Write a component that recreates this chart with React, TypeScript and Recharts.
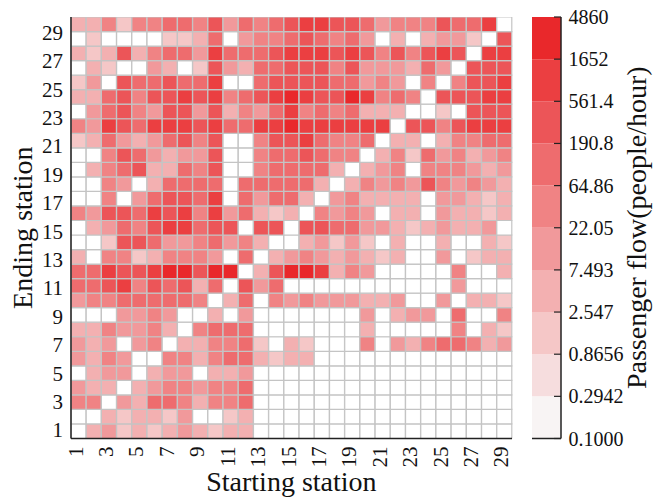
import { Bar, BarChart, Cell, XAxis, YAxis } from "recharts";

const stations = [
  1, 2, 3, 4, 5, 6, 7, 8, 9, 10, 11, 12, 13, 14, 15, 16, 17, 18, 19, 20, 21,
  22, 23, 24, 25, 26, 27, 28, 29,
];
const stationTicks = [1, 3, 5, 7, 9, 11, 13, 15, 17, 19, 21, 23, 25, 27, 29];

// OD passenger flow (people/hour). Rows: ending station 29 down to 1.
// Columns: starting station 1..29. 0 means no trips.
const flowRows: number[][] = [
  [4.5, 4.5, 38, 1.6, 38, 38, 110, 110, 38, 320, 13, 110, 38, 110, 320, 950, 950, 320, 320, 110, 13, 38, 38, 38, 320, 110, 110, 950, 0],
  [0, 1.6, 0, 0, 0, 0, 1.6, 1.6, 4.5, 110, 0, 13, 38, 38, 110, 320, 110, 38, 110, 13, 0, 4.5, 0, 4.5, 13, 13, 1.6, 0, 320],
  [4.5, 1.6, 4.5, 320, 4.5, 38, 110, 110, 13, 950, 110, 110, 110, 320, 950, 950, 950, 320, 950, 320, 38, 320, 38, 320, 950, 320, 0, 950, 950],
  [0, 4.5, 1.6, 0, 0, 13, 4.5, 0, 1.6, 320, 13, 4.5, 110, 110, 320, 320, 320, 38, 320, 13, 13, 13, 4.5, 110, 13, 0, 320, 320, 320],
  [1.6, 13, 0, 320, 110, 110, 320, 110, 110, 950, 0, 0, 110, 320, 320, 320, 320, 110, 110, 13, 38, 13, 0, 38, 0, 38, 320, 320, 950],
  [4.5, 4.5, 110, 320, 38, 320, 320, 950, 320, 950, 38, 110, 320, 950, 2800, 950, 320, 320, 2800, 950, 38, 110, 38, 0, 320, 320, 320, 950, 950],
  [0, 13, 110, 320, 38, 13, 320, 320, 13, 320, 4.5, 38, 13, 110, 950, 38, 110, 38, 110, 4.5, 4.5, 4.5, 0, 0, 1.6, 0, 320, 320, 320],
  [38, 13, 950, 320, 110, 950, 950, 950, 320, 950, 110, 110, 950, 950, 2800, 950, 950, 950, 950, 950, 950, 0, 320, 320, 38, 320, 950, 950, 950],
  [1.6, 4.5, 110, 13, 4.5, 13, 110, 320, 38, 320, 0, 0, 38, 320, 320, 950, 110, 38, 38, 110, 0, 4.5, 4.5, 0, 4.5, 38, 38, 110, 110],
  [0, 0, 38, 320, 110, 13, 4.5, 13, 13, 320, 0, 0, 38, 110, 110, 320, 110, 38, 38, 0, 4.5, 38, 1.6, 110, 13, 38, 4.5, 13, 38],
  [0, 4.5, 38, 110, 320, 4.5, 4.5, 110, 38, 320, 0, 0, 38, 110, 110, 110, 110, 4.5, 0, 4.5, 13, 38, 0, 38, 38, 38, 13, 4.5, 13],
  [0, 0, 38, 13, 0, 4.5, 110, 110, 110, 110, 0, 110, 110, 110, 110, 110, 4.5, 0, 4.5, 38, 13, 38, 13, 320, 38, 13, 38, 13, 4.5],
  [0, 0, 38, 0, 13, 110, 320, 320, 110, 950, 0, 110, 13, 110, 110, 4.5, 0, 13, 38, 4.5, 4.5, 4.5, 4.5, 0, 13, 13, 4.5, 1.6, 4.5],
  [38, 13, 320, 320, 110, 950, 320, 950, 38, 950, 13, 110, 4.5, 1.6, 4.5, 0, 38, 13, 38, 13, 0, 4.5, 4.5, 0, 13, 4.5, 4.5, 1.6, 4.5],
  [0, 4.5, 13, 110, 38, 320, 950, 950, 110, 320, 320, 0, 320, 320, 0, 320, 320, 110, 110, 13, 13, 4.5, 1.6, 4.5, 13, 4.5, 4.5, 13, 0],
  [0, 0, 1.6, 320, 320, 110, 13, 13, 38, 110, 13, 38, 4.5, 0, 0, 4.5, 13, 1.6, 13, 1.6, 0, 4.5, 0, 0, 4.5, 0, 0, 4.5, 1.6],
  [4.5, 0, 38, 38, 1.6, 4.5, 38, 38, 38, 13, 0, 110, 0, 4.5, 13, 38, 13, 4.5, 13, 4.5, 1.6, 4.5, 0, 0, 13, 0, 1.6, 4.5, 4.5],
  [110, 110, 950, 320, 320, 950, 2800, 2800, 320, 2800, 2800, 0, 4.5, 320, 2800, 2800, 950, 4.5, 38, 13, 0, 0, 0, 0, 0, 38, 0, 0, 4.5],
  [110, 110, 320, 950, 38, 320, 110, 320, 4.5, 110, 0, 320, 13, 110, 0, 0, 0, 0, 0, 0, 0, 0, 0, 0, 0, 13, 0, 0, 0],
  [13, 38, 38, 110, 110, 110, 110, 110, 38, 0, 4.5, 110, 0, 38, 13, 38, 13, 13, 13, 4.5, 4.5, 13, 0, 0, 13, 0, 4.5, 4.5, 1.6],
  [0, 0, 0, 13, 13, 38, 13, 0, 0, 4.5, 0, 13, 0, 0, 0, 0, 0, 0, 0, 13, 0, 4.5, 13, 13, 0, 110, 0, 0, 38],
  [4.5, 4.5, 38, 13, 13, 38, 4.5, 0, 38, 110, 110, 110, 0, 0, 0, 0, 0, 0, 0, 4.5, 0, 0, 0, 0, 0, 38, 0, 4.5, 1.6],
  [13, 4.5, 13, 0, 13, 38, 0, 4.5, 4.5, 38, 38, 110, 1.6, 0, 4.5, 1.6, 0, 0, 0, 38, 0, 13, 4.5, 38, 110, 110, 38, 4.5, 13],
  [13, 4.5, 38, 13, 0, 0, 38, 38, 4.5, 38, 110, 110, 4.5, 1.6, 4.5, 4.5, 0, 0, 0, 0, 0, 0, 0, 0, 0, 0, 0, 0, 0],
  [0, 4.5, 13, 13, 0, 4.5, 13, 13, 0, 4.5, 4.5, 13, 0, 0, 0, 0, 0, 0, 0, 0, 0, 0, 0, 0, 0, 0, 0, 0, 0],
  [13, 4.5, 4.5, 0, 4.5, 13, 38, 38, 13, 38, 38, 110, 0, 0, 0, 0, 0, 0, 0, 0, 0, 0, 0, 0, 0, 0, 0, 0, 0],
  [38, 38, 0, 13, 4.5, 110, 110, 38, 4.5, 38, 38, 110, 0, 0, 0, 0, 0, 0, 0, 0, 0, 0, 0, 0, 0, 0, 0, 0, 0],
  [0, 0, 4.5, 1.6, 4.5, 4.5, 1.6, 13, 0, 0, 1.6, 4.5, 0, 0, 0, 0, 0, 0, 0, 0, 0, 0, 0, 0, 0, 0, 0, 0, 0],
  [0, 4.5, 13, 1.6, 4.5, 1.6, 4.5, 13, 4.5, 1.6, 4.5, 4.5, 0, 0, 0, 0, 0, 0, 0, 0, 0, 0, 0, 0, 0, 0, 0, 0, 0],
];

// colour scale: log-spaced band edges, bottom to top
const scaleBounds = [0.1, 0.2942, 0.8656, 2.547, 7.493, 22.05, 64.86, 190.8, 561.4, 1652, 4860];
const scaleLabels = ["0.1000", "0.2942", "0.8656", "2.547", "7.493", "22.05", "64.86", "190.8", "561.4", "1652", "4860"];
const scaleTickIdx = [0, 1, 2, 3, 4, 5, 6, 7, 8, 9, 10];
const bandColors = [
  "#f8f4f4", "#f6ddde", "#f5c7c7", "#f3b0b1", "#f1999b",
  "#f08384", "#ee6c6e", "#ec5558", "#eb3f41", "#e9282b",
];

const FONT = '"Liberation Serif", "Times New Roman", serif';
const FRAME = "#222";
const GRID = "#c4c4c4";
const frameLine = { stroke: FRAME, strokeWidth: 1.5 };

const flowAt = (end: number, start: number) => flowRows[29 - end][start - 1];

function colorFor(v: number) {
  if (!(v > 0)) return "#ffffff";
  for (let i = bandColors.length - 1; i >= 0; i--) {
    if (v >= scaleBounds[i]) return bandColors[i];
  }
  return bandColors[0];
}

// one stacked column per starting station, one unit-high segment per ending station
const cellData = stations.map((s) => {
  const row: Record<string, number> = { start: s };
  stations.forEach((e) => {
    row[`e${e}`] = 1;
  });
  return row;
});

const scaleData = [
  bandColors.reduce<Record<string, number | string>>(
    (acc, _c, i) => ({ ...acc, [`b${i}`]: 1 }),
    { k: "scale" }
  ),
];

function StartTick({ x, y, payload }: any) {
  if (payload.value % 2 === 0) return <g />;
  const tx = x + 4;
  const ty = y + 8;
  return (
    <text
      x={tx}
      y={ty}
      transform={`rotate(-90 ${tx} ${ty})`}
      textAnchor="end"
      fontSize={21}
      fontFamily={FONT}
      fill="#111"
    >
      {payload.value}
    </text>
  );
}

function EndTick({ x, y, payload }: any) {
  return (
    <text x={x} y={y} dy="0.35em" textAnchor="end" fontSize={21} fontFamily={FONT} fill="#111">
      {payload.value}
    </text>
  );
}

function ScaleTick({ x, y, payload }: any) {
  return (
    <g>
      <line x1={x - 7} x2={x} y1={y} y2={y} stroke={FRAME} strokeWidth={1.2} />
      <text x={x + 7.5} y={y} dy="0.35em" fontSize={20} fontFamily={FONT} fill="#111">
        {scaleLabels[payload.value]}
      </text>
    </g>
  );
}

function Heatmap() {
  return (
    <BarChart
      width={520}
      height={497}
      data={cellData}
      margin={{ top: 17, right: 8, bottom: 0, left: 0 }}
      barCategoryGap={0}
      barGap={0}
    >
      <XAxis
        dataKey="start"
        interval={0}
        height={58.5}
        tickSize={0}
        tickMargin={0}
        tick={<StartTick />}
        tickLine={false}
        axisLine={frameLine}
        label={() => (
          <text x={291.4} y={491} textAnchor="middle" fontSize={28} fontFamily={FONT} fill="#111">
            Starting station
          </text>
        )}
      />
      <XAxis xAxisId="top" dataKey="start" orientation="top" height={0} tick={false} tickLine={false} axisLine={frameLine} />
      <YAxis
        yAxisId="labels"
        type="number"
        domain={[0.4, 30.1]}
        allowDataOverflow
        ticks={stationTicks}
        interval={0}
        width={71}
        tickSize={0}
        tickMargin={8}
        tick={<EndTick />}
        tickLine={false}
        axisLine={frameLine}
        label={() => (
          <text
            x={23}
            y={227.7}
            transform="rotate(-90 23 227.7)"
            textAnchor="middle"
            dominantBaseline="central"
            fontSize={28}
            fontFamily={FONT}
            fill="#111"
          >
            Ending station
          </text>
        )}
      />
      <YAxis yAxisId="cells" type="number" domain={[0, 29]} allowDataOverflow width={0} hide />
      <YAxis yAxisId="right" orientation="right" type="number" domain={[0, 1]} width={0} tick={false} tickLine={false} axisLine={frameLine} />
      {stations.map((e) => (
        <Bar
          key={e}
          dataKey={`e${e}`}
          stackId="od"
          yAxisId="cells"
          stroke={GRID}
          strokeWidth={1.2}
          isAnimationActive={false}
        >
          {stations.map((s) => (
            <Cell key={s} fill={colorFor(flowAt(e, s))} />
          ))}
        </Bar>
      ))}
    </BarChart>
  );
}

function ColorScale() {
  return (
    <BarChart
      width={140}
      height={497}
      data={scaleData}
      margin={{ top: 17, right: 0, bottom: 0, left: 12 }}
      barCategoryGap={0}
    >
      <XAxis dataKey="k" height={58.5} tick={false} tickLine={false} axisLine={frameLine} />
      <XAxis xAxisId="top" dataKey="k" orientation="top" height={0} tick={false} tickLine={false} axisLine={frameLine} />
      <YAxis yAxisId="left" type="number" domain={[0, 1]} width={0} tick={false} tickLine={false} axisLine={frameLine} />
      <YAxis yAxisId="bands" type="number" domain={[0, 10]} allowDataOverflow width={0} hide />
      <YAxis
        yAxisId="scale"
        orientation="right"
        type="number"
        domain={[0, 10]}
        allowDataOverflow
        ticks={scaleTickIdx}
        interval={0}
        width={99}
        tickSize={0}
        tickMargin={0}
        tick={<ScaleTick />}
        tickLine={false}
        axisLine={frameLine}
        label={() => (
          <text
            x={117}
            y={227.7}
            transform="rotate(-90 117 227.7)"
            textAnchor="middle"
            dominantBaseline="central"
            fontSize={28}
            fontFamily={FONT}
            fill="#111"
          >
            Passenger flow(people/hour)
          </text>
        )}
      />
      {bandColors.map((c, i) => (
        <Bar key={c} dataKey={`b${i}`} stackId="scale" yAxisId="bands" fill={c} isAnimationActive={false} />
      ))}
    </BarChart>
  );
}

export default function App() {
  return (
    <div style={{ position: "absolute", left: 0, top: 0, width: 660, height: 497, background: "#fff" }}>
      <div style={{ position: "absolute", left: 0, top: 0 }}>
        <Heatmap />
      </div>
      <div style={{ position: "absolute", left: 520, top: 0 }}>
        <ColorScale />
      </div>
    </div>
  );
}
